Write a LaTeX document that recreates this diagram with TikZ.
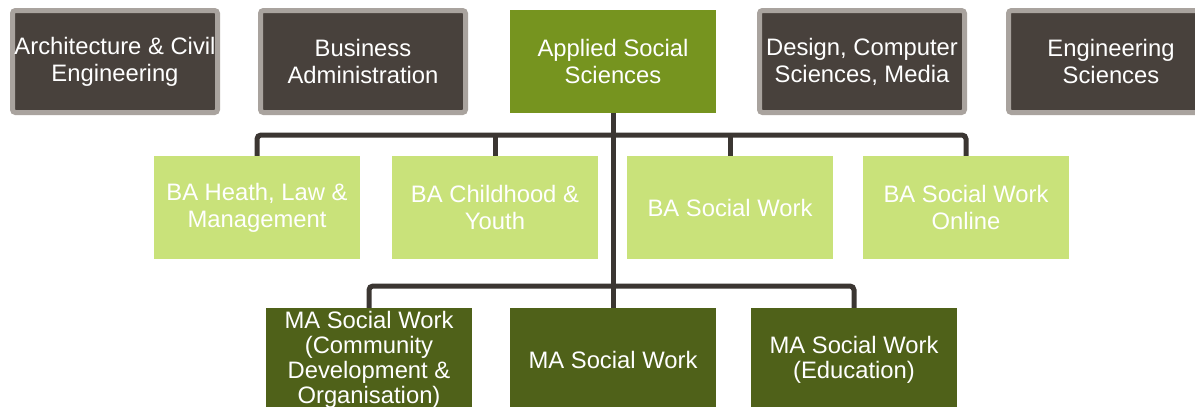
\documentclass[tikz,border=0pt]{standalone}
\usepackage{fontspec}
\setmainfont{Liberation Sans}
\definecolor{darkbox}{HTML}{48413C}
\definecolor{darkborder}{HTML}{A9A39E}
\definecolor{applied}{HTML}{76941F}
\definecolor{balight}{HTML}{C9E27A}
\definecolor{madark}{HTML}{4F6119}
\definecolor{connc}{HTML}{3B3632}
\tikzset{
  base/.style={minimum width=206pt, minimum height=103pt, inner sep=0pt, align=center, text=white,
    font=\fontsize{23.8}{27}\selectfont},
  facbox/.style={base, minimum width=205pt, minimum height=102pt, fill=darkbox, draw=darkborder, line width=5pt, rounded corners=3pt},
  appbox/.style={base, fill=applied},
  babox/.style={base, fill=balight},
  mabox/.style={base, fill=madark, font=\fontsize{23.8}{25}\selectfont},
  conn/.style={draw=connc, line width=5pt, rounded corners=4pt}
}
\begin{document}
\begin{tikzpicture}[x=1pt,y=-1pt]
\useasboundingbox (0,0) rectangle (1195,407);
\clip (0,0) rectangle (1195,407);
\fill[white] (0,0) rectangle (1195,407);
\coordinate (hb) at (613,135);
\coordinate (hm) at (613,286);
\node[facbox] (f1) at (115,61.5) {Architecture \& Civil\\Engineering};
\node[facbox] (f2) at (363,61.5) {Business\\Administration};
\node[appbox] (app) at (613,61.5) {Applied Social\\Sciences};
\node[facbox] (f4) at (862,61.5) {Design, Computer\\Sciences, Media};
\node[facbox] (f5) at (1111,61.5) {Engineering\\Sciences};
\node[babox] (ba1) at (257,207.5) {BA Heath, Law \&\\Management};
\node[babox] (ba2) at (495,207.5) {BA Childhood \&\\Youth};
\node[babox] (ba3) at (730,207.5) {BA Social Work};
\node[babox] (ba4) at (966,207.5) {BA Social Work\\Online};
\node[mabox] (ma1) at (369,359.5) {MA Social Work\\(Community\\Development \&\\Organisation)};
\node[mabox] (ma2) at (613,359.5) {MA Social Work};
\node[mabox] (ma3) at (854,359.5) {MA Social Work\\(Education)};
\draw[conn] (app.south) -- (ma2.north);
\draw[conn] (ba1.north) |- (hb) -| (ba4.north);
\draw[conn] (ba2.north) -- (ba2.north |- hb);
\draw[conn] (ba3.north) -- (ba3.north |- hb);
\draw[conn] (ma1.north) |- (hm) -| (ma3.north);
\end{tikzpicture}
\end{document}
